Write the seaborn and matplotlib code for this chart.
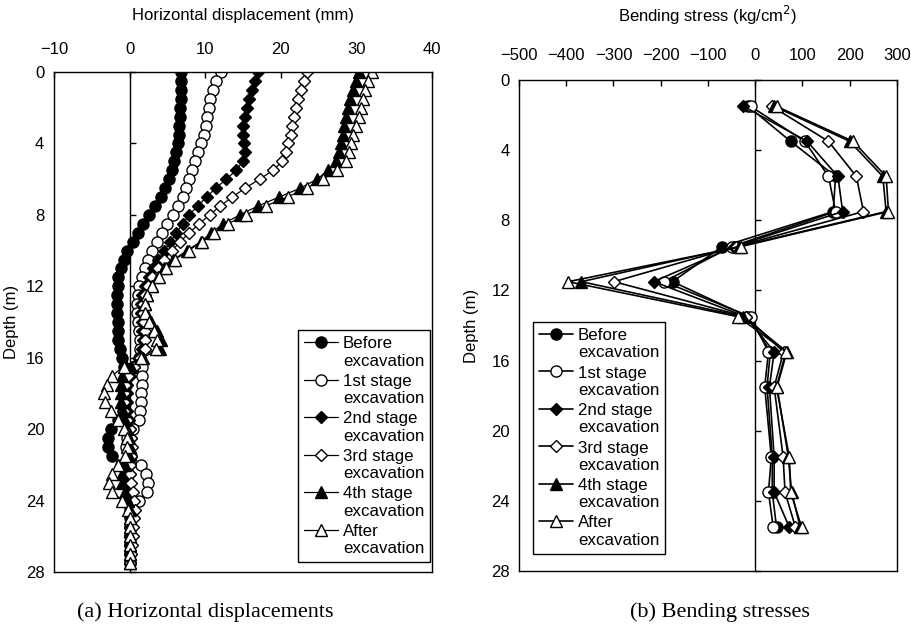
import matplotlib
matplotlib.use("Agg")
import matplotlib.pyplot as plt
import matplotlib.transforms as mtransforms
from matplotlib import font_manager as fm
from matplotlib.legend_handler import HandlerLine2D
import pandas as pd
import seaborn as sns

# ---------------------------------------------------------------- data
labels = ["Before\nexcavation", "1st stage\nexcavation", "2nd stage\nexcavation",
          "3rd stage\nexcavation", "4th stage\nexcavation", "After\nexcavation"]

# inclinometer readings (depth in m)
depth_a = [0.0, 0.5, 1.0, 1.5, 2.0, 2.5, 3.0, 3.5, 4.0, 4.5, 5.0, 5.5, 6.0, 6.5,
           7.0, 7.5, 8.0, 8.5, 9.0, 9.5, 10.0, 10.5, 11.0, 11.5, 12.0, 12.5, 13.0, 13.5,
           14.0, 14.5, 15.0, 15.5, 16.0, 16.5, 17.0, 17.5, 18.0, 18.5, 19.0, 19.5, 20.0, 20.5,
           21.0, 21.5, 22.0, 22.5, 23.0, 23.5, 24.0, 24.5, 25.0, 25.5, 26.0, 26.5, 27.0, 27.5]

disp_before = [6.8, 6.8, 6.8, 6.8, 6.7, 6.7, 6.6, 6.5, 6.4, 6.2, 5.9, 5.6, 5.2, 4.7,
               4.1, 3.4, 2.6, 1.8, 1.1, 0.4, -0.3, -0.8, -1.2, -1.5, -1.6, -1.7, -1.7, -1.7,
               -1.6, -1.6, -1.5, -1.3, -1.0, -0.7, -0.5, -0.5, -0.6, -0.7, -0.9, -1.6, -2.4, -2.8,
               -2.8, -2.3, -1.2, -0.5, -0.2, 0.0, 0.0, 0.0, 0.0, 0.0, 0.0, 0.0, 0.0, 0.0]
disp_stage1 = [12.1, 11.4, 11.0, 10.7, 10.5, 10.3, 10.1, 9.8, 9.5, 9.1, 8.7, 8.3, 7.9, 7.5,
               7.0, 6.4, 5.8, 5.0, 4.3, 3.6, 2.9, 2.4, 2.0, 1.6, 1.3, 1.1, 1.0, 1.0,
               1.1, 1.3, 1.4, 1.4, 1.3, 1.6, 1.7, 1.6, 1.5, 1.5, 1.4, 1.2, 0.4, -0.4,
               -0.5, 0.2, 1.5, 2.2, 2.4, 2.3, 1.2, 0.5, 0.2, 0.1, 0.1, 0.0, 0.0, 0.0]
disp_stage2 = [17.0, 16.6, 16.2, 15.8, 15.5, 15.2, 15.0, 15.0, 15.1, 15.2, 15.0, 14.1, 12.8, 11.4,
               10.2, 9.0, 7.9, 7.0, 6.2, 5.4, 4.6, 3.8, 3.1, 2.5, 2.0, 1.7, 1.5, 1.5,
               1.6, 1.7, 1.8, 1.7, 1.2, 0.6, 0.0, -0.3, -0.4, -0.4, -0.3, -0.1, 0.1, 0.2,
               0.2, 0.1, 0.1, 0.0, 0.0, 0.0, 0.1, 0.2, 0.2, 0.2, 0.1, 0.1, 0.0, 0.0]
disp_stage3 = [23.5, 23.1, 22.7, 22.3, 22.0, 21.7, 21.5, 21.3, 21.0, 20.7, 20.2, 19.0, 17.2, 15.3,
               13.6, 12.0, 10.6, 9.2, 7.9, 6.7, 5.6, 4.6, 3.7, 3.0, 2.4, 2.0, 1.8, 1.8,
               1.9, 2.0, 2.1, 2.0, 1.4, 0.6, -0.2, -0.6, -0.8, -0.8, -0.7, -0.4, 0.0, 0.2,
               0.3, 0.2, 0.1, 0.0, 0.2, 0.4, 0.6, 0.7, 0.6, 0.5, 0.4, 0.3, 0.2, 0.1]
disp_stage4 = [30.4, 30.0, 29.6, 29.2, 28.9, 28.6, 28.4, 28.2, 28.0, 27.7, 27.3, 26.3, 24.8, 22.6,
               19.8, 17.0, 14.6, 12.4, 10.8, 9.4, 7.6, 5.8, 4.6, 3.8, 2.9, 2.3, 2.1, 2.2,
               2.8, 3.6, 4.1, 4.0, 1.8, 0.2, -1.0, -1.2, -1.2, -1.1, -0.9, -0.6, -0.3, -0.1,
               0.0, -0.1, -0.6, -1.0, -1.0, -0.6, -0.2, 0.0, 0.0, 0.0, 0.0, 0.0, 0.0, 0.0]
disp_after = [32.0, 31.6, 31.2, 30.9, 30.6, 30.3, 30.0, 29.6, 29.3, 29.0, 28.6, 27.4, 25.6, 23.4,
              20.9, 18.0, 15.4, 13.0, 11.2, 9.6, 7.8, 6.0, 4.8, 3.9, 3.0, 2.3, 2.0, 2.0,
              2.5, 3.2, 3.6, 3.5, 1.5, -0.8, -2.3, -3.0, -3.4, -3.2, -2.5, -1.5, -0.7, -0.4,
              -0.3, -0.6, -1.5, -2.3, -2.7, -2.3, -1.0, -0.2, 0.0, 0.0, 0.0, 0.0, 0.0, 0.0]

# strain-gauge levels (depth in m) and bending stress (kg/cm2)
depth_b = [1.5, 3.5, 5.5, 7.5, 9.5, 11.5, 13.5, 15.5, 17.5, 21.5, 23.5, 25.5]
stress_before = [-15, 75, 170, 165, -70, -175, -15, 32, 25, 36, 36, 45]
stress_stage1 = [-10, 105, 155, 170, -50, -193, -10, 28, 20, 34, 28, 38]
stress_stage2 = [-25, 110, 175, 185, -45, -215, -20, 40, 30, 40, 40, 72]
stress_stage3 = [35, 155, 214, 229, -40, -299, -20, 60, 40, 59, 63, 85]
stress_stage4 = [40, 200, 270, 277, -35, -368, -25, 67, 46, 70, 77, 95]
stress_after = [45, 207, 277, 282, -30, -396, -36, 65, 45, 72, 75, 98]

disp_ticks = [-10, 0, 10, 20, 30, 40]
stress_ticks = [-500, -400, -300, -200, -100, 0, 100, 200, 300]
depth_ticks = [0, 4, 8, 12, 16, 20, 24, 28]

disp_series = [disp_before, disp_stage1, disp_stage2, disp_stage3, disp_stage4, disp_after]
stress_series = [stress_before, stress_stage1, stress_stage2, stress_stage3, stress_stage4, stress_after]

# marker, face colour, marker size (left / right panel)
styles = [("o", "black", 8.0, 8.0), ("o", "white", 8.0, 8.0), ("D", "black", 6.3, 6.0),
          ("D", "white", 6.3, 6.0), ("^", "black", 8.5, 9.0), ("^", "white", 8.5, 9.0)]

# ---------------------------------------------------------------- fonts
def available(name):
    try:
        fm.findfont(fm.FontProperties(family=name), fallback_to_default=False)
        return True
    except Exception:
        return False

sns.set_style("white")
narrow = "Liberation Sans Narrow" if available("Liberation Sans Narrow") else "Liberation Sans"
plt.rcParams["font.family"] = [narrow, "DejaVu Sans"]
plt.rcParams["axes.edgecolor"] = "black"
plt.rcParams["axes.linewidth"] = 1.0
plt.rcParams["text.color"] = "black"
plt.rcParams["xtick.color"] = "black"
plt.rcParams["ytick.color"] = "black"
plt.rcParams["axes.labelcolor"] = "black"


class FirstLineHandler(HandlerLine2D):
    """Legend handle drawn level with the first line of a two-line label."""
    def __init__(self, shift, **kw):
        super().__init__(**kw)
        self.shift = shift

    def create_artists(self, legend, orig_handle, xdescent, ydescent, width, height,
                       fontsize, trans):
        trans = mtransforms.Affine2D().translate(0, self.shift) + trans
        return super().create_artists(legend, orig_handle, xdescent, ydescent, width,
                                      height, fontsize, trans)


fig = plt.figure(figsize=(9.12, 6.32), dpi=100)
W, H = 912.0, 632.0
ax1 = fig.add_axes([54 / W, 1 - 572 / H, 378 / W, 500 / H])
ax2 = fig.add_axes([519 / W, 1 - 571 / H, 378 / W, 491 / H])


def draw_panel(ax, depth, series, size_idx, lw):
    for lab, vals, st in zip(labels, series, styles):
        mk, fc = st[0], st[1]
        frame = pd.DataFrame({"value": vals, "depth": depth})
        sns.lineplot(data=frame, x="value", y="depth", ax=ax, sort=False, estimator=None,
                     color="black", linewidth=lw, marker=mk, markersize=st[size_idx],
                     markerfacecolor=fc, markeredgecolor="black", markeredgewidth=1.0,
                     label=lab, legend=False)


draw_panel(ax1, depth_a, disp_series, 2, 0.9)
draw_panel(ax2, depth_b, stress_series, 3, 1.2)

lab_font = {"family": [narrow, "DejaVu Sans"], "size": 12}

for ax, ticks, lim, xpad, ypad, title, tpad, lpad in [
        (ax1, disp_ticks, (-10, 40), 11, 7, "Horizontal displacement (mm)", 16, 5),
        (ax2, stress_ticks, (-500, 300), 12, 6.5, "Bending stress (kg/cm$^2$)", 19, 9)]:
    ax.set_xlim(*lim)
    ax.set_ylim(28, 0)
    ax.set_xticks(ticks)
    ax.set_yticks(depth_ticks)
    ax.xaxis.tick_top()
    ax.xaxis.set_label_position("top")
    ax.tick_params(axis="x", direction="in", length=4, width=1, pad=xpad, labelsize=12)
    ax.tick_params(axis="y", length=0, pad=ypad, labelsize=12)
    ax.set_xlabel(title, fontdict=lab_font, labelpad=tpad)
    ax.set_ylabel("Depth (m)", fontdict=lab_font, labelpad=lpad)
    for sp in ax.spines.values():
        sp.set_visible(True)
        sp.set_color("black")
        sp.set_linewidth(1.0)
    # vertical zero line carrying the depth ticks
    zero = ax.secondary_yaxis((0 - lim[0]) / (lim[1] - lim[0]))
    zero.set_alignment("left")
    zero.set_yticks(depth_ticks)
    zero.tick_params(axis="y", direction="in", length=4, width=1, labelleft=False,
                     labelright=False)
    for sp in zero.spines.values():
        sp.set_color("black")
        sp.set_linewidth(1.0)

shift = 12.5 * 1.2 / 2
leg_kw = dict(frameon=True, fancybox=False, edgecolor="black", framealpha=1,
              prop={"family": "Liberation Sans", "size": 12.2}, handlelength=2.0,
              handletextpad=0.3, labelspacing=0.3, borderpad=0.35, borderaxespad=0)
h1, l1 = ax1.get_legend_handles_labels()
leg1 = ax1.legend(h1, l1, loc="lower right", bbox_to_anchor=(0.995, 0.02),
                  handler_map={h: FirstLineHandler(shift) for h in h1}, **leg_kw)
h2, l2 = ax2.get_legend_handles_labels()
leg2 = ax2.legend(h2, l2, loc="lower left", bbox_to_anchor=(0.037, 0.035),
                  handler_map={h: FirstLineHandler(shift) for h in h2}, **leg_kw)
for lg in (leg1, leg2):
    lg.get_frame().set_linewidth(1.0)

cap_font = {"family": ["Liberation Serif", "DejaVu Serif"], "size": 16}
fig.text(205 / W, 1 - 612 / H, "(a) Horizontal displacements", ha="center", va="center",
         fontdict=cap_font)
fig.text(720 / W, 1 - 612 / H, "(b) Bending stresses", ha="center", va="center",
         fontdict=cap_font)

fig.savefig("out.png", dpi=100, facecolor="white")
